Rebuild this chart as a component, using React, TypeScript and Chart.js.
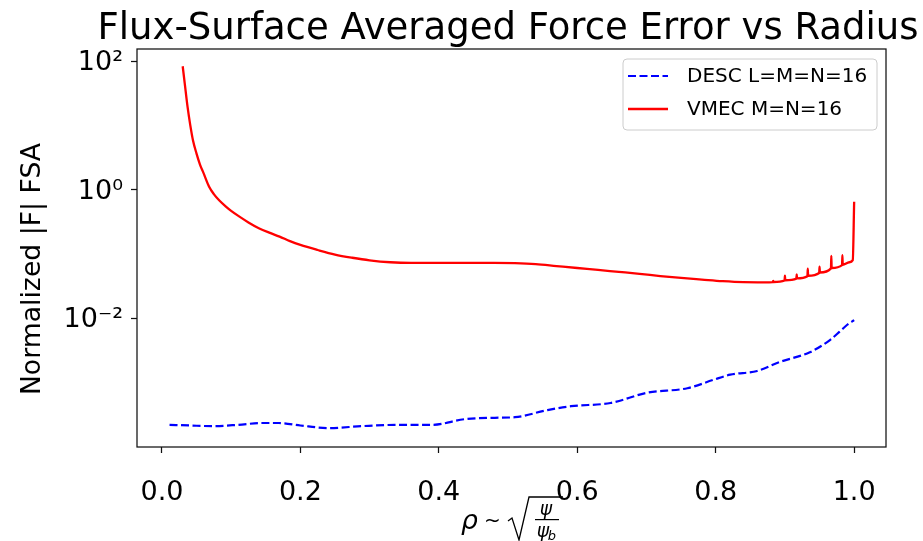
import React, { useEffect, useRef } from 'react';
import { Chart, registerables } from 'chart.js';

Chart.register(...registerables);

const TITLE = 'Flux-Surface Averaged Force Error vs Radius';
const Y_LABEL = 'Normalized |F| FSA';
const X_TICKS = [0, 0.2, 0.4, 0.6, 0.8, 1.0];
const Y_TICKS = [0.01, 1, 100];
const Y_TICK_LABELS = ['10⁻²', '10⁰', '10²'];
const DESC_LABEL = 'DESC L=M=N=16';
const VMEC_LABEL = 'VMEC M=N=16';

const DESC_RHO = [
  0.011, 0.04, 0.073, 0.11, 0.145, 0.169, 0.2, 0.241, 0.289, 0.34, 0.39, 0.438,
  0.481, 0.51, 0.557, 0.591, 0.648, 0.701, 0.759, 0.797, 0.821, 0.86, 0.893,
  0.936, 0.965, 0.979, 0.99, 1.0,
];
const DESC_FSA = [
  2.19e-4, 2.14e-4, 2.09e-4, 2.19e-4, 2.34e-4, 2.34e-4, 2.14e-4, 1.95e-4, 2.09e-4,
  2.19e-4, 2.19e-4, 2.69e-4, 2.82e-4, 2.88e-4, 3.72e-4, 4.27e-4, 4.79e-4, 6.92e-4,
  8.13e-4, 1.1e-3, 1.32e-3, 1.51e-3, 2.09e-3, 2.95e-3, 4.57e-3, 6.17e-3, 7.9e-3, 9.3e-3,
];

const VMEC_RHO = [
  0.03, 0.033, 0.037, 0.041, 0.045, 0.05, 0.055, 0.06, 0.068, 0.075, 0.083, 0.092,
  0.1, 0.112, 0.125, 0.14, 0.155, 0.17, 0.185, 0.2, 0.225, 0.25, 0.275, 0.3, 0.33,
  0.36, 0.39, 0.42, 0.45, 0.48, 0.51, 0.54, 0.57, 0.6, 0.63, 0.66, 0.69, 0.72, 0.75,
  0.78, 0.81, 0.84, 0.87,
  0.8825, 0.883, 0.8835,
  0.8995, 0.9, 0.9005,
  0.9165, 0.917, 0.9175,
  0.9325, 0.933, 0.9335,
  0.9495, 0.95, 0.9505,
  0.9665, 0.967, 0.9675,
  0.9825, 0.983, 0.9835,
  0.993, 0.998, 1.0,
];
const VMEC_FSA = [
  83, 44.7, 19.5, 10.0, 5.75, 3.63, 2.45, 1.82, 1.12, 0.851, 0.676, 0.55,
  0.468, 0.38, 0.309, 0.251, 0.214, 0.186, 0.158, 0.138, 0.115, 0.0977, 0.0871, 0.0794, 0.0741,
  0.0724, 0.0724, 0.0724, 0.0724, 0.0724, 0.0716, 0.0692, 0.0646, 0.0603, 0.0562, 0.0525, 0.049, 0.0452, 0.0422,
  0.0398, 0.0376, 0.0363, 0.0361,
  0.0364, 0.038, 0.0365,
  0.0385, 0.0457, 0.0389,
  0.0412, 0.0479, 0.0417,
  0.045, 0.0589, 0.0457,
  0.0505, 0.0631, 0.0513,
  0.0595, 0.0933, 0.0603,
  0.0668, 0.0955, 0.0676,
  0.0741, 0.08, 0.646,
];

const FONT = '"DejaVu Sans"';

const decorPlugin = {
  id: 'decor',
  afterDraw(chart: any) {
    const { ctx, chartArea: a } = chart;
    ctx.save();
    // frame
    ctx.strokeStyle = '#111';
    ctx.lineWidth = 1.25;
    ctx.strokeRect(a.left, a.top, a.right - a.left, a.bottom - a.top);

    // title
    ctx.fillStyle = '#000';
    ctx.font = `37px ${FONT}`;
    ctx.textAlign = 'center';
    ctx.textBaseline = 'alphabetic';
    ctx.fillText(TITLE, 508, 39);

    // y label
    ctx.save();
    ctx.translate(33, 269);
    ctx.rotate(-Math.PI / 2);
    ctx.font = `26.7px ${FONT}`;
    ctx.textAlign = 'center';
    ctx.textBaseline = 'middle';
    ctx.fillText(Y_LABEL, 0, 0);
    ctx.restore();

    // legend
    const lx = 623, ly = 59, lw = 254, lh = 71, r = 4;
    ctx.beginPath();
    ctx.moveTo(lx + r, ly);
    ctx.lineTo(lx + lw - r, ly);
    ctx.quadraticCurveTo(lx + lw, ly, lx + lw, ly + r);
    ctx.lineTo(lx + lw, ly + lh - r);
    ctx.quadraticCurveTo(lx + lw, ly + lh, lx + lw - r, ly + lh);
    ctx.lineTo(lx + r, ly + lh);
    ctx.quadraticCurveTo(lx, ly + lh, lx, ly + lh - r);
    ctx.lineTo(lx, ly + r);
    ctx.quadraticCurveTo(lx, ly, lx + r, ly);
    ctx.closePath();
    ctx.fillStyle = 'rgba(255,255,255,0.8)';
    ctx.fill();
    ctx.strokeStyle = '#cccccc';
    ctx.lineWidth = 1;
    ctx.stroke();

    ctx.lineWidth = 2.2;
    ctx.strokeStyle = 'blue';
    ctx.setLineDash([8, 3.5]);
    ctx.beginPath();
    ctx.moveTo(628, 76);
    ctx.lineTo(668, 76);
    ctx.stroke();
    ctx.setLineDash([]);
    ctx.lineWidth = 2.3;
    ctx.strokeStyle = 'red';
    ctx.beginPath();
    ctx.moveTo(628, 109);
    ctx.lineTo(668, 109);
    ctx.stroke();

    ctx.fillStyle = '#000';
    ctx.font = `20px ${FONT}`;
    ctx.textAlign = 'left';
    ctx.textBaseline = 'middle';
    ctx.fillText(DESC_LABEL, 687, 77);
    ctx.fillText(VMEC_LABEL, 687, 110);

    // x label: rho ~ sqrt(psi / psi_b)
    ctx.textBaseline = 'alphabetic';
    ctx.font = `italic 26.7px ${FONT}`;
    ctx.fillText('ρ', 461, 529);
    ctx.font = `20px ${FONT}`;
    ctx.fillText('~', 484, 527);
    ctx.strokeStyle = '#000';
    ctx.lineWidth = 1.3;
    ctx.beginPath();
    ctx.moveTo(508, 521);
    ctx.lineTo(512, 518);
    ctx.lineTo(519, 540);
    ctx.lineTo(529, 497);
    ctx.lineTo(563, 497);
    ctx.stroke();
    ctx.textAlign = 'center';
    ctx.font = `italic 18.7px ${FONT}`;
    ctx.fillText('ψ', 546, 515);
    ctx.fillRect(535, 519, 24, 1.2);
    ctx.fillText('ψ', 543, 537);
    ctx.font = `italic 13px ${FONT}`;
    ctx.fillText('b', 552, 540);
    ctx.restore();
  },
};

export default function App() {
  const ref = useRef<HTMLCanvasElement | null>(null);
  useEffect(() => {
    const canvas = ref.current;
    if (!canvas) return;
    const tickFont = { family: 'DejaVu Sans', size: 27 };
    const chart = new Chart(canvas, {
      type: 'line',
      data: {
        datasets: [
          {
            label: DESC_LABEL,
            data: DESC_RHO.map((x, i) => ({ x, y: DESC_FSA[i] })),
            borderColor: 'blue',
            borderWidth: 2.2,
            borderDash: [8, 3.5],
            pointRadius: 0,
            cubicInterpolationMode: 'monotone',
            fill: false,
          },
          {
            label: VMEC_LABEL,
            data: VMEC_RHO.map((x, i) => ({ x, y: VMEC_FSA[i] })),
            borderColor: 'red',
            borderWidth: 2.3,
            borderJoinStyle: 'round',
            pointRadius: 0,
            cubicInterpolationMode: 'monotone',
            fill: false,
          },
        ],
      },
      options: {
        animation: false,
        responsive: false,
        devicePixelRatio: 1,
        layout: { padding: { left: 0, right: 37, top: 49, bottom: 0 } },
        plugins: {
          legend: { display: false },
          title: { display: false },
          tooltip: { enabled: false },
        },
        scales: {
          x: {
            type: 'linear',
            min: -0.036,
            max: 1.046,
            afterBuildTicks: (s: any) => {
              s.ticks = X_TICKS.map((v) => ({ value: v }));
            },
            afterFit: (s: any) => {
              s.height = 94;
            },
            grid: { drawOnChartArea: false, drawTicks: true, tickLength: 6, tickWidth: 1.25, tickColor: '#111' },
            border: { display: false },
            ticks: {
              callback: (v: any) => Number(v).toFixed(1),
              font: tickFont,
              color: '#000',
              padding: 24,
              maxRotation: 0,
              autoSkip: false,
            },
          },
          y: {
            type: 'logarithmic',
            min: 9.9e-5,
            max: 154,
            afterBuildTicks: (s: any) => {
              s.ticks = Y_TICKS.map((v) => ({ value: v }));
            },
            afterFit: (s: any) => {
              s.width = 137;
            },
            grid: { drawOnChartArea: false, drawTicks: true, tickLength: 6, tickWidth: 1.25, tickColor: '#111' },
            border: { display: false },
            ticks: {
              callback: (_v: any, i: number) => Y_TICK_LABELS[i],
              font: tickFont,
              color: '#000',
              padding: 8,
              labelOffset: 2,
              autoSkip: false,
            },
          },
        },
      } as any,
      plugins: [decorPlugin],
    });
    return () => chart.destroy();
  }, []);
  return (
    <div style={{ position: 'fixed', left: 0, top: 0, width: 923, height: 541, background: '#fff' }}>
      <canvas ref={ref} width={923} height={541} style={{ display: 'block' }} />
    </div>
  );
}
